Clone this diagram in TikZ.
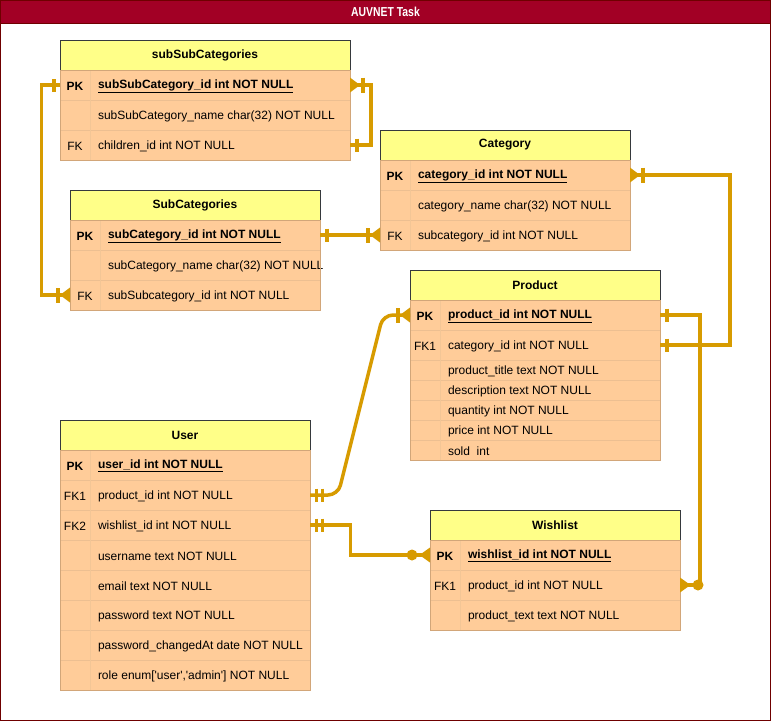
\documentclass[tikz,border=0pt]{standalone}
\usepackage{fontspec}
\setmainfont{Liberation Sans}
\newfontfamily\erfont{Liberation Sans}
\usetikzlibrary{calc}
\definecolor{hdrfill}{HTML}{FFFF88}
\definecolor{hdrline}{HTML}{36393D}
\definecolor{bodyfill}{HTML}{FFCC99}
\definecolor{bodyedge}{HTML}{D2A679}
\definecolor{rowsepc}{HTML}{EDBF91}
\definecolor{colsepc}{HTML}{F3C696}
\definecolor{connc}{HTML}{D79B00}
\definecolor{titlefill}{HTML}{A20025}
\definecolor{titleline}{HTML}{6F0000}
\tikzset{
  every node/.append style={font=\erfont\fontsize{12}{14}\selectfont, text=black},
  hdr/.style={draw=hdrline, fill=hdrfill, minimum height=30pt, inner sep=0pt, outer sep=0pt, line width=1pt},
  rowbox/.style={draw=rowsepc, fill=bodyfill, inner sep=0pt, outer sep=0pt, line width=0.8pt},
  keytxt/.style={inner sep=0pt, outer sep=0pt, yshift=-1pt},
  fldtxt/.style={inner sep=0pt, outer sep=0pt, anchor=west, yshift=-1pt},
  colsep/.style={draw=colsepc, line width=0.8pt},
  bodyline/.style={draw=bodyedge, line width=1pt},
  conn/.style={draw=connc, line width=3.5pt},
  barline/.style={draw=connc, line width=4pt},
  onebar/.pic={\draw[barline] (6.5,-6.5) -- (6.5,6.5);},
  twobar/.pic={\draw[barline, line width=3.2pt] (6.5,-6.5) -- (6.5,6.5) (12.5,-6.5) -- (12.5,6.5);},
  crowbar/.pic={\fill[connc] (0,-7.5) -- (10,0) -- (0,7.5) -- cycle; \draw[barline] (12.5,-7.5) -- (12.5,7.5);},
  crowcirc/.pic={\fill[connc] (0,-7.5) -- (10.5,0) -- (0,7.5) -- cycle; \fill[connc] (18,0) circle[radius=5.5pt];},
}
% #1 name, #2 x, #3 y, #4 width, #5 height, #6 key, #7 field
\newcommand{\ERrow}[7]{%
  \node[rowbox, minimum width=#4pt, minimum height=#5pt, anchor=north west] (#1) at (#2,#3) {};
  \node[keytxt] (#1k) at ([xshift=15pt]#1.west) {#6};
  \node[fldtxt] (#1f) at ([xshift=38pt]#1.west) {#7};
  \draw[colsep] ([xshift=30pt]#1.north west) -- ([xshift=30pt]#1.south west);
}
% #1 name, #2 x, #3 y, #4 width, #5 text
\newcommand{\ERhead}[5]{%
  \node[hdr, minimum width=#4pt, anchor=north west] (#1) at (#2,#3) {\raisebox{-1pt}{\bfseries #5}};
}
\newcommand{\ERbody}[2]{\draw[bodyline] (#1.north west) rectangle (#2.south east);}
\begin{document}
\begin{tikzpicture}[x=1pt,y=-1pt]
\useasboundingbox (0,0) rectangle (771,721);
\node[draw=titleline, fill=white, line width=1pt, minimum width=770pt, minimum height=720pt, inner sep=0pt, outer sep=0pt, anchor=north west] (frame) at (0.5,0.5) {};
\node[draw=titleline, fill=titlefill, line width=1pt, minimum width=770pt, minimum height=22.5pt, inner sep=0pt, outer sep=0pt, anchor=north west, text=white] (title) at (0.5,0.5) {\scalebox{0.8}[1]{\fontsize{13}{15}\selectfont\bfseries AUVNET Task}};

% subSubCategories
\ERhead{ssH}{60}{40}{290}{subSubCategories}
\ERrow{ss0}{60}{70}{290}{30}{\textbf{PK}}{\textbf{\underline{subSubCategory\_id int NOT NULL}}}
\ERrow{ss1}{60}{100}{290}{30}{}{subSubCategory\_name char(32) NOT NULL}
\ERrow{ss2}{60}{130}{290}{30}{FK}{children\_id int NOT NULL}
\ERbody{ss0}{ss2}

% Category
\ERhead{catH}{380}{130}{250}{Category}
\ERrow{cat0}{380}{160}{250}{30}{\textbf{PK}}{\textbf{\underline{category\_id int NOT NULL}}}
\ERrow{cat1}{380}{190}{250}{30}{}{category\_name char(32) NOT NULL}
\ERrow{cat2}{380}{220}{250}{30}{FK}{subcategory\_id int NOT NULL}
\ERbody{cat0}{cat2}

% SubCategories
\ERhead{scH}{70}{190}{250}{SubCategories}
\ERrow{sc0}{70}{220}{250}{30}{\textbf{PK}}{\textbf{\underline{subCategory\_id int NOT NULL}}}
\ERrow{sc1}{70}{250}{250}{30}{}{subCategory\_name char(32) NOT NULL}
\ERrow{sc2}{70}{280}{250}{30}{FK}{subSubcategory\_id int NOT NULL}
\ERbody{sc0}{sc2}

% Product
\ERhead{pH}{410}{270}{250}{Product}
\ERrow{p0}{410}{300}{250}{30}{\textbf{PK}}{\textbf{\underline{product\_id int NOT NULL}}}
\ERrow{p1}{410}{330}{250}{30}{FK1}{category\_id int NOT NULL}
\ERrow{p2}{410}{360}{250}{20}{}{product\_title text NOT NULL}
\ERrow{p3}{410}{380}{250}{20}{}{description text NOT NULL}
\ERrow{p4}{410}{400}{250}{20}{}{quantity int NOT NULL}
\ERrow{p5}{410}{420}{250}{20}{}{price int NOT NULL}
\ERrow{p6}{410}{440}{250}{20}{}{sold\ \ int}
\ERbody{p0}{p6}

% User
\ERhead{uH}{60}{420}{250}{User}
\ERrow{u0}{60}{450}{250}{30}{\textbf{PK}}{\textbf{\underline{user\_id int NOT NULL}}}
\ERrow{u1}{60}{480}{250}{30}{FK1}{product\_id int NOT NULL}
\ERrow{u2}{60}{510}{250}{30}{FK2}{wishlist\_id int NOT NULL}
\ERrow{u3}{60}{540}{250}{30}{}{username text NOT NULL}
\ERrow{u4}{60}{570}{250}{30}{}{email text NOT NULL}
\ERrow{u5}{60}{600}{250}{30}{}{password text NOT NULL}
\ERrow{u6}{60}{630}{250}{30}{}{password\_changedAt date NOT NULL}
\ERrow{u7}{60}{660}{250}{30}{}{role enum['user','admin'] NOT NULL}
\ERbody{u0}{u7}

% Wishlist
\ERhead{wH}{430}{510}{250}{Wishlist}
\ERrow{w0}{430}{540}{250}{30}{\textbf{PK}}{\textbf{\underline{wishlist\_id int NOT NULL}}}
\ERrow{w1}{430}{570}{250}{30}{FK1}{product\_id int NOT NULL}
\ERrow{w2}{430}{600}{250}{30}{}{product\_text text NOT NULL}
\ERbody{w0}{w2}

% connectors
\draw[conn] (ss0.west) -- ++(-18.5,0) |- (sc2.west);
\draw[conn] (ss2.east) -- ++(21,0) |- (ss0.east);
\draw[conn] (sc0.east) -- (cat2.west);
\draw[conn] (p1.east) -- ++(70,0) |- (cat0.east);
\draw[conn] (p0.east) -- ++(40,0) |- (w1.east);
\draw[conn, rounded corners=10pt] (u1.east) -- ++(28,0) -- ([xshift=-27pt]p0.west) -- (p0.west);
\draw[conn] (u2.east) -- ++(40.5,0) |- (w0.west);

% end markers
\pic[rotate=180] at (ss0.west) {onebar};
\pic[rotate=180] at (sc2.west) {crowbar};
\pic at (ss2.east) {onebar};
\pic at (ss0.east) {crowbar};
\pic at (sc0.east) {onebar};
\pic[rotate=180] at (cat2.west) {crowbar};
\pic at (p1.east) {onebar};
\pic at (cat0.east) {crowbar};
\pic at (p0.east) {onebar};
\pic at (w1.east) {crowcirc};
\pic at (u1.east) {twobar};
\pic[rotate=180] at (p0.west) {crowbar};
\pic at (u2.east) {twobar};
\pic[rotate=180] at (w0.west) {crowcirc};
\end{tikzpicture}
\end{document}
